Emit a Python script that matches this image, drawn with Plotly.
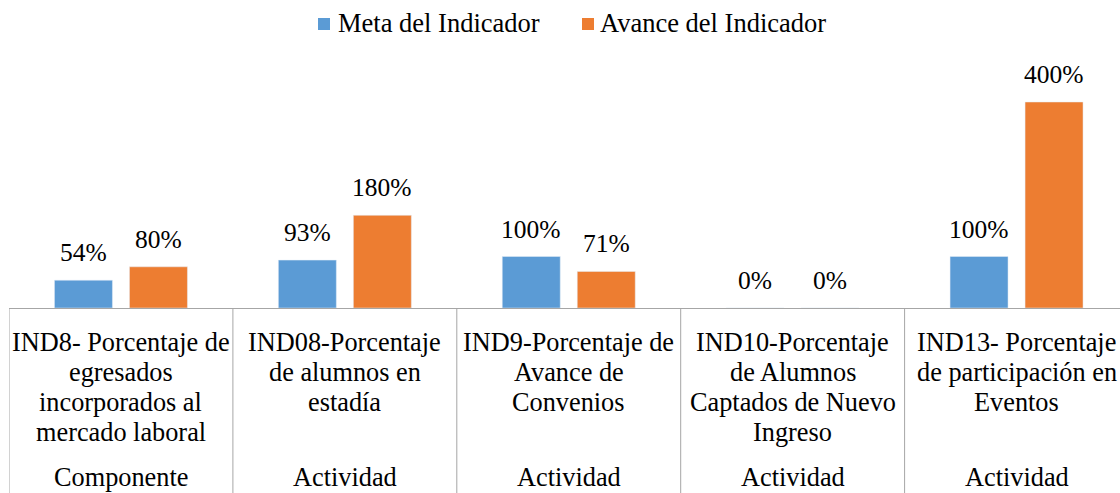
import plotly.graph_objects as go

# ---- data ----
indicadores = [
    "IND8- Porcentaje de\negresados\nincorporados al\nmercado laboral",
    "IND08-Porcentaje\nde alumnos en\nestadía",
    "IND9-Porcentaje de\nAvance de\nConvenios",
    "IND10-Porcentaje\nde Alumnos\nCaptados de Nuevo\nIngreso",
    "IND13- Porcentaje\nde participación en\nEventos",
]
niveles = ["Componente", "Actividad", "Actividad", "Actividad", "Actividad"]
meta = [54, 93, 100, 0, 100]
avance = [80, 180, 71, 0, 400]
series_names = ["Meta del Indicador", "Avance del Indicador"]

# ---- style ----
FONT = "Liberation Serif"
BLUE = "#5B9BD5"
ORANGE = "#ED7D31"
GRID = "#A6A6A6"
W, H = 1120, 493
ML, MR, MT, MB = 9, 0, 80, 185
BARGAP = 0.33
GROUPGAP = 0.227
LINE_H = 30          # px between category label lines
FIRST_LINE = 34      # px from axis to centre of first label line
LEVEL2 = 169         # px from axis to centre of second-level label
# legend layout (pixels from top-left of figure)
LEG_SQ_X = [318, 582]
LEG_TXT_X = [336, 598]
LEG_Y = 23
LEG_SQ = 12

plot_w = W - ML - MR
plot_h = H - MT - MB


def px_x(p):
    return (p - ML) / plot_w


def px_y(p):
    return 1 - (p - MT) / plot_h


x = list(range(len(indicadores)))
colors = [BLUE, ORANGE]
fig = go.Figure()
for name, vals, col in zip(series_names, (meta, avance), colors):
    fig.add_trace(go.Bar(x=x, y=vals, name=name, marker=dict(color=col)))

off = (1 - BARGAP) / 4
annotations = []
for vals, sgn in ((meta, -1), (avance, 1)):
    for i, v in enumerate(vals):
        annotations.append(dict(
            x=i + sgn * off, y=v, xref="x", yref="y", text=f"{v}%",
            showarrow=False, yanchor="bottom", yshift=11,
            font=dict(family=FONT, size=25.5, color="#000000")))
# category labels (first level, line by line)
for i, label in enumerate(indicadores):
    for j, line in enumerate(label.split("\n")):
        annotations.append(dict(
            x=i, y=0, xref="x", yref="paper", text=line, showarrow=False,
            yanchor="middle", yshift=-(FIRST_LINE + j * LINE_H),
            font=dict(family=FONT, size=26.3, color="#000000")))
# second-level category labels
for i, lvl in enumerate(niveles):
    annotations.append(dict(
        x=i, y=0, xref="x", yref="paper", text=lvl, showarrow=False,
        yanchor="middle", yshift=-LEVEL2,
        font=dict(family=FONT, size=26.3, color="#000000")))

shapes = []
for i in range(len(indicadores) + 1):
    shapes.append(dict(type="line", xref="x", yref="paper",
                       x0=i - 0.5, x1=i - 0.5, y0=0, y1=-MB / plot_h,
                       line=dict(color=GRID, width=1)))

# legend (series names + colour swatches)
for name, col, sx, tx in zip(series_names, colors, LEG_SQ_X, LEG_TXT_X):
    shapes.append(dict(type="rect", xref="paper", yref="paper",
                       x0=px_x(sx), x1=px_x(sx + LEG_SQ),
                       y0=px_y(LEG_Y + 1 + LEG_SQ / 2), y1=px_y(LEG_Y + 1 - LEG_SQ / 2),
                       fillcolor=col, line=dict(width=0)))
    annotations.append(dict(x=px_x(tx), y=px_y(LEG_Y), xref="paper", yref="paper",
                            xanchor="left", yanchor="middle", text=name, showarrow=False,
                            font=dict(family=FONT, size=26.5, color="#000000")))

fig.update_layout(
    width=W, height=H,
    margin=dict(l=ML, r=MR, t=MT, b=MB, autoexpand=False),
    barmode="group", bargap=BARGAP, bargroupgap=GROUPGAP,
    plot_bgcolor="white", paper_bgcolor="white",
    font=dict(family=FONT, size=25, color="#000000"),
    annotations=annotations,
    shapes=shapes,
    showlegend=False,
)
fig.update_xaxes(
    range=[-0.5, -0.5 + plot_w / 223.9],
    tickmode="array", tickvals=x, showticklabels=False,
    showline=True, linecolor=GRID, linewidth=1,
    showgrid=False, zeroline=False, ticks="", automargin=False,
)
fig.update_yaxes(range=[0, plot_h / 0.515], visible=False, showgrid=False)

fig.write_html("out.html", config={"displayModeBar": False})
with open("out.html", encoding="utf-8") as fh:
    html = fh.read()
css = ("<style>html,body{margin:0;padding:0;overflow:hidden}"
       ".main-svg text{font-family:'Liberation Serif','Times New Roman',serif !important}</style>")
html = html.replace("<head>", "<head>" + css, 1)
with open("out.html", "w", encoding="utf-8") as fh:
    fh.write(html)
